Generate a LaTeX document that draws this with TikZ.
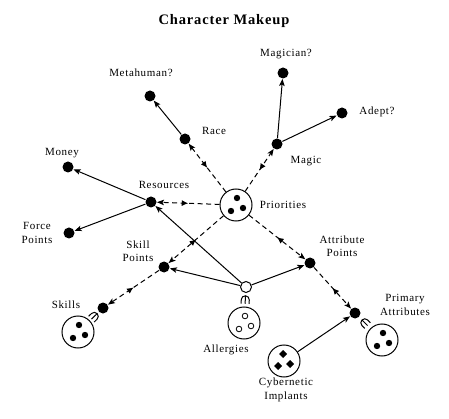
\documentclass[tikz,border=0pt]{standalone}
\usepackage{fontspec}
\setmainfont{Liberation Serif}[LetterSpace=6]
\usetikzlibrary{arrows.meta, decorations.markings}

\tikzset{
    dot/.style={circle, fill, inner sep=0pt, minimum size=11pt},
    opendot/.style={circle, draw, fill=white, inner sep=0pt, minimum size=11pt},
    group/.style={circle, draw, inner sep=0pt, minimum size=32pt},
    lbl/.style={align=center, font=\fontsize{11}{13.5}\selectfont},
    link/.style={-{Stealth[length=7pt, width=5.5pt, inset=1.5pt]}},
    dlink/.style={dash pattern=on 5pt off 3.5pt, -{Stealth[length=7pt, width=5.5pt, inset=1.5pt]},
        decoration={markings, mark=at position 0.5 with {\arrowreversed{Latex[length=6.5pt, width=6pt]}}},
        postaction={decorate}},
    fork/.style={decoration={markings, mark=at position 0.5 with {
        \draw[solid, -] (-4pt,4pt) -- (0pt,4pt) arc[start angle=90, end angle=-90, radius=4pt] -- (-4pt,-4pt)
            (-4pt,0pt) -- (4pt,0pt);}},
        postaction={decorate}}
}

\begin{document}
\begin{tikzpicture}[x=1pt, y=-1pt, line width=1pt]
    \useasboundingbox (0,0) rectangle (449,419);
    \node[font=\bfseries\fontsize{14.5}{16}\selectfont] (title) at (224,21) {Character Makeup};

    % points
    \node[dot] (metahuman) at (150,96) {};
    \node[dot] (race) at (185,139) {};
    \node[dot] (magician) at (283,73) {};
    \node[dot] (magic) at (277,144) {};
    \node[dot] (adept) at (342,113) {};
    \node[dot] (resources) at (151,202) {};
    \node[dot] (money) at (68,167) {};
    \node[dot] (force) at (69,233) {};
    \node[dot] (skillpts) at (164,267) {};
    \node[dot] (skills) at (103,308) {};
    \node[dot] (attrpts) at (310,263) {};
    \node[dot] (primary) at (355,313) {};
    \node[opendot] (allergy) at (246,287) {};

    % groups
    \node[group] (prio) at (236,205) {};
    \node[group] (skillsgrp) at (78,332) {};
    \node[group] (allergies) at (244,323) {};
    \node[group] (primarygrp) at (382,340) {};
    \node[group] (cyber) at (284,361) {};

    \foreach \dx/\dy in {1/-7, 7/3, -5/6} {
        \fill ([shift={(\dx,\dy)}]prio.center) circle (3.2);
        \fill ([shift={(\dx,\dy)}]skillsgrp.center) circle (3.2);
        \fill ([shift={(\dx,\dy)}]primarygrp.center) circle (3.2);
        \draw[line width=0.8pt] ([shift={(\dx,\dy)}]allergies.center) circle (2.8);
    }
    \foreach \dx/\dy in {-1/-7, -6/5, 6/3}
        \fill ([shift={(\dx,\dy)}]cyber.center) +(0,-4) -- +(4,0) -- +(0,4) -- +(-4,0) -- cycle;

    % labels
    \node[lbl] (lmagician) at (286,54) {Magician?};
    \node[lbl] (lmetahuman) at (141,73) {Metahuman?};
    \node[lbl] (ladept) at (377,112) {Adept?};
    \node[lbl] (lrace) at (214,131) {Race};
    \node[lbl] (lmagic) at (306,161) {Magic};
    \node[lbl] (lprio) at (283,205) {Priorities};
    \node[lbl] (lresources) at (164,185) {Resources};
    \node[lbl] (lmoney) at (62,153) {Money};
    \node[lbl] (lforce) at (37,233) {Force\\Points};
    \node[lbl] (lskillpts) at (138,251) {Skill\\Points};
    \node[lbl] (lskills) at (66,305) {Skills};
    \node[lbl] (lallergies) at (226,350) {Allergies};
    \node[lbl] (lattrpts) at (342,246) {Attribute\\Points};
    \node[lbl] (lprimary) at (405,305) {Primary\\Attributes};
    \node[lbl] (lcyber) at (286,390) {Cybernetic\\Implants};

    % connectors
    \draw[link] (race) -- (metahuman);
    \draw[link] (magic) -- (magician);
    \draw[link] (magic) -- (adept);
    \draw[link] (resources) -- (money);
    \draw[link] (resources) -- (force);
    \draw[link] (allergy) -- (resources);
    \draw[link] (allergy) -- (skillpts);
    \draw[link] (allergy) -- (attrpts);
    \draw[link] (cyber) -- (primary);

    \draw[dlink] (prio) -- (race);
    \draw[dlink] (prio) -- (magic);
    \draw[dlink] (prio) -- (resources);
    \draw[dlink] (prio) -- (skillpts);
    \draw[dlink] (prio) -- (attrpts);
    \draw[dlink] (skillpts) -- (skills);
    \draw[dlink] (attrpts) -- (primary);

    \path[fork] (skillsgrp) -- (skills);
    \path[fork] (allergies) -- (allergy);
    \path[fork] (primarygrp) -- (primary);
\end{tikzpicture}
\end{document}
